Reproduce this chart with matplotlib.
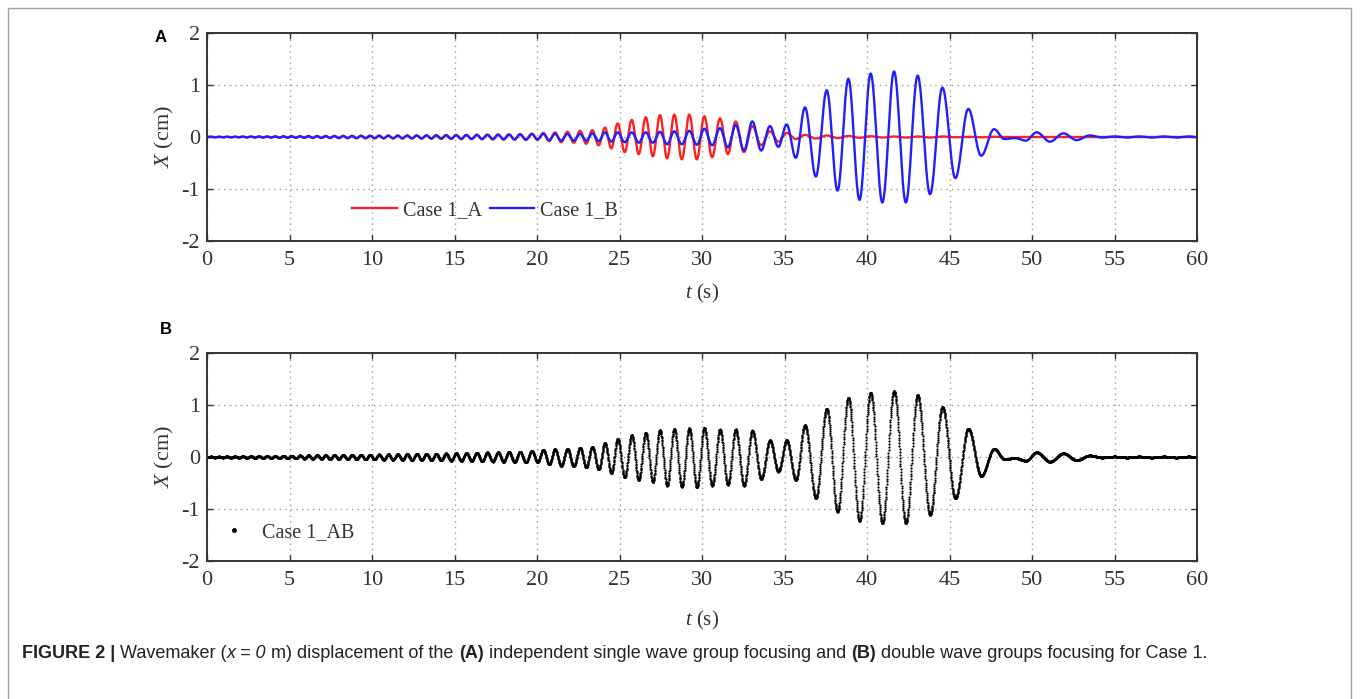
import numpy as np
import matplotlib
matplotlib.use("Agg")
import matplotlib.pyplot as plt
from matplotlib.patches import Rectangle

# フォント設定
plt.rcParams["font.family"] = ["Liberation Serif", "DejaVu Serif"]
plt.rcParams["mathtext.fontset"] = "custom"
plt.rcParams["mathtext.rm"] = "Liberation Serif"
plt.rcParams["mathtext.it"] = "Liberation Serif:italic"
plt.rcParams["axes.unicode_minus"] = False

# 波峰の時刻 (s)，谷は隣り合う波峰の中間
t_crest = [
    0.25, 0.73, 1.21, 1.69, 2.17, 2.66, 3.15, 3.64, 4.13, 4.63, 5.13,
    5.64, 6.15, 6.67, 7.19, 7.72, 8.25, 8.79, 9.33, 9.88,
    10.43, 10.99, 11.56, 12.13, 12.71, 13.30, 13.89, 14.49,
    15.10, 15.72, 16.35, 16.99, 17.64, 18.30, 18.97,
    19.68, 20.38, 21.09, 21.84, 22.61, 23.35, 24.12, 24.89, 25.74, 26.59,
    27.45, 28.32, 29.23, 30.14, 31.09, 32.04, 33.05, 34.12, 35.13,
    36.24, 37.56, 38.87, 40.22, 41.64, 43.07, 44.57, 46.14, 47.70,
    48.97, 50.28, 51.90, 53.50, 55.00, 56.50, 58.00, 59.50,
]
t_end = 61.0

# Case 1_A (cm)
crest_A = [
    0.005, 0.005, 0.006, 0.006, 0.007, 0.008, 0.009, 0.010, 0.011, 0.013, 0.015,
    0.016, 0.018, 0.019, 0.021, 0.022, 0.023, 0.024, 0.025, 0.026,
    0.027, 0.028, 0.030, 0.032, 0.033, 0.035, 0.037, 0.039,
    0.041, 0.043, 0.045, 0.048, 0.051, 0.054, 0.058,
    0.065, 0.08, 0.09, 0.10, 0.12, 0.13, 0.18, 0.26, 0.33, 0.38,
    0.42, 0.43, 0.43, 0.40, 0.36, 0.30, 0.21, 0.11, 0.08,
    0.04, 0.03, 0.02, 0.015, 0.01, 0.01, 0.01, 0.005, 0.005,
    0.0, 0.0, 0.0, 0.0, 0.0, 0.0, 0.0, 0.0,
]
trough_A = [
    -0.005, -0.005, -0.006, -0.006, -0.007, -0.008, -0.009, -0.010, -0.011, -0.013, -0.015,
    -0.016, -0.018, -0.019, -0.021, -0.022, -0.023, -0.024, -0.025, -0.026,
    -0.027, -0.028, -0.030, -0.032, -0.033, -0.035, -0.037, -0.039,
    -0.041, -0.043, -0.045, -0.048, -0.051, -0.054, -0.058,
    -0.055, -0.08, -0.10, -0.11, -0.13, -0.16, -0.22, -0.29, -0.33, -0.37,
    -0.41, -0.43, -0.43, -0.39, -0.33, -0.29, -0.16, -0.09, -0.04,
    -0.03, -0.02, -0.015, -0.01, -0.01, -0.01, -0.005, -0.005, 0.0,
    0.0, 0.0, 0.0, 0.0, 0.0, 0.0, 0.0, 0.0,
]

# Case 1_B (cm)
crest_B = [
    0.005, 0.005, 0.006, 0.006, 0.007, 0.008, 0.009, 0.010, 0.011, 0.012, 0.013,
    0.014, 0.015, 0.016, 0.017, 0.018, 0.019, 0.020, 0.021, 0.022,
    0.023, 0.024, 0.025, 0.026, 0.027, 0.028, 0.029, 0.031,
    0.033, 0.035, 0.037, 0.039, 0.041, 0.044, 0.047,
    0.055, 0.06, 0.06, 0.06, 0.06, 0.07, 0.09, 0.09, 0.09, 0.09,
    0.10, 0.11, 0.12, 0.16, 0.17, 0.23, 0.30, 0.21, 0.24,
    0.57, 0.90, 1.12, 1.22, 1.26, 1.18, 0.95, 0.54, 0.15,
    -0.02, 0.09, 0.07, 0.03, 0.01, 0.01, 0.01, 0.01,
]
trough_B = [
    -0.005, -0.005, -0.006, -0.006, -0.007, -0.008, -0.009, -0.010, -0.011, -0.012, -0.013,
    -0.014, -0.015, -0.016, -0.017, -0.018, -0.019, -0.020, -0.021, -0.022,
    -0.023, -0.024, -0.025, -0.026, -0.027, -0.028, -0.029, -0.031,
    -0.033, -0.035, -0.037, -0.039, -0.041, -0.044, -0.047,
    -0.045, -0.06, -0.07, -0.07, -0.07, -0.08, -0.09, -0.10, -0.11, -0.11,
    -0.14, -0.14, -0.15, -0.16, -0.20, -0.26, -0.26, -0.19, -0.40,
    -0.76, -1.03, -1.21, -1.26, -1.26, -1.10, -0.79, -0.36, -0.04,
    -0.07, -0.09, -0.06, -0.01, -0.01, -0.01, -0.01, -0.01,
]

x_ticks = np.arange(0, 61, 5)
y_ticks = [-2, -1, 0, 1, 2]

W, H = 1360, 699
TEXT_COLOR = "#333333"
FONT_TICK = 16
FONT_XLABEL = 15
FONT_YLABEL = 16
FONT_LEGEND = 14.5


def wave_from_extrema(t, crest, trough):
    """波峰と谷を半周期のcos曲線でつなぐ"""
    tc = np.array(t_crest + [t_end])
    tk, vk = [0.0], [0.0]
    for i in range(len(crest)):
        tk += [tc[i], 0.5 * (tc[i] + tc[i + 1])]
        vk += [crest[i], trough[i]]
    tk, vk = np.array(tk), np.array(vk)
    idx = np.clip(np.searchsorted(tk, t, side="right") - 1, 0, len(tk) - 2)
    s = (t - tk[idx]) / (tk[idx + 1] - tk[idx])
    return vk[idx] + (vk[idx + 1] - vk[idx]) * (1 - np.cos(np.pi * s)) / 2


t = np.arange(0, 60.0001, 0.01)
x_A = wave_from_extrema(t, crest_A, trough_A)
x_B = wave_from_extrema(t, crest_B, trough_B)
x_AB = x_A + x_B


def setup_axes(ax, xlabelpad):
    ax.set_xlim(0, 60)
    ax.set_ylim(-2, 2)
    ax.set_xticks(x_ticks)
    ax.set_yticks(y_ticks)
    ax.tick_params(direction="in", top=True, right=True, length=4,
                   width=1, color="#333333", labelsize=FONT_TICK,
                   labelcolor=TEXT_COLOR, pad=5)
    ax.tick_params(axis="x", pad=7)
    ax.grid(True, linestyle=(0, (1, 3)), color="#9a9a9a", linewidth=1)
    for sp in ax.spines.values():
        sp.set_color("#333333")
        sp.set_linewidth(1.4)
    ax.set_xlabel(r"$\mathit{t}$ (s)", fontsize=FONT_XLABEL, color=TEXT_COLOR,
                  labelpad=xlabelpad)
    ax.set_ylabel(r"$\mathit{X}$ (cm)", fontsize=FONT_YLABEL, color=TEXT_COLOR,
                  labelpad=4)


fig = plt.figure(figsize=(W / 100, H / 100), dpi=100)

# 外枠
fig.patches.append(Rectangle((8 / W, -0.01), (1351 - 8) / W, 1 - 8 / H + 0.01,
                             transform=fig.transFigure, fill=False,
                             edgecolor="#a0a0a0", linewidth=1))

ax1 = fig.add_axes([207 / W, 1 - 241 / H, 990 / W, 208 / H])
ax2 = fig.add_axes([207 / W, 1 - 561 / H, 990 / W, 208 / H])
setup_axes(ax1, 9)
setup_axes(ax2, 14)

ax1.plot(t, x_A, color="#ff2020", linewidth=1.7, label="Case 1_A")
ax1.plot(t, x_B, color="#2020ff", linewidth=1.7, label="Case 1_B")
ax1.legend(loc="center", bbox_to_anchor=(0.281, 0.145), ncol=2, frameon=False,
           fontsize=FONT_LEGEND, handlelength=2.2, handletextpad=0.3,
           columnspacing=0.4, labelcolor=TEXT_COLOR)

ax2.plot(t, x_AB, linestyle="none", marker="o", markersize=1.6,
         markeredgewidth=0, color="black", label="Case 1_AB")
ax2.legend(loc="center", bbox_to_anchor=(0.082, 0.135), frameon=False,
           fontsize=FONT_LEGEND, markerscale=2.2, handlelength=1.2,
           handletextpad=0.8, labelcolor=TEXT_COLOR)

# パネルラベル
fig.text(161 / W, 1 - 37 / H, "A", family="Liberation Sans", fontweight="bold",
         fontsize=12, ha="center", va="center")
fig.text(166 / W, 1 - 330 / H, "B", family="Liberation Sans", fontweight="bold",
         fontsize=12, ha="center", va="center")

# キャプション
cap_font = ["Liberation Sans Narrow", "Liberation Sans"]
pieces = [
    ("FIGURE 2 | ", "b"),
    ("Wavemaker (", "r"),
    ("x = 0", "i"),
    (" m) displacement of the ", "r"),
    ("(A)", "b"),
    (" independent single wave group focusing and ", "r"),
    ("(B)", "b"),
    (" double wave groups focusing for Case 1.", "r"),
]
renderer = fig.canvas.get_renderer()
texts = []
for s, style in pieces:
    kw = {}
    if style == "b":
        kw["fontweight"] = "bold"
    elif style == "i":
        kw["fontstyle"] = "italic"
    texts.append(fig.text(0, 1 - 653 / H, s, family=cap_font, fontsize=12,
                          ha="left", va="center", color="#222222", **kw))
total = sum(tx.get_window_extent(renderer).width for tx in texts)
scale = (1213 - 22) / total
x_pos = 22
for tx in texts:
    tx.set_fontsize(12 * scale)
    tx.set_x(x_pos / W)
    x_pos += tx.get_window_extent(renderer).width

fig.savefig("out.png", dpi=100)
